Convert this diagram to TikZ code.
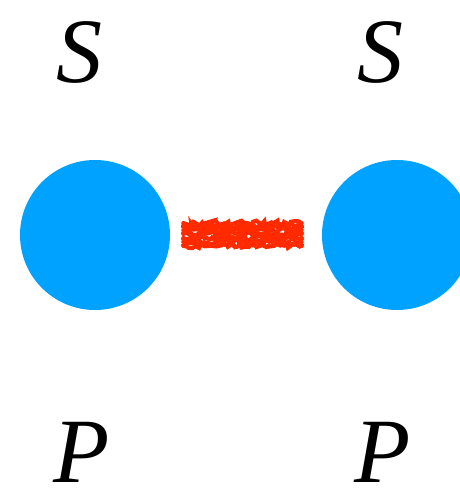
\documentclass[tikz,border=0pt]{standalone}
\usepackage{fontspec}
\setmainfont{Liberation Serif}
\usetikzlibrary{decorations.pathmorphing}
\definecolor{ballblue}{HTML}{00A2FF}
\definecolor{scribred}{HTML}{FF2A00}
\begin{document}
\begin{tikzpicture}[x=1pt,y=-1pt,
  ball/.style={circle,fill=ballblue,minimum size=150pt,inner sep=0pt},
  lbl/.style={font=\fontsize{92}{92}\selectfont\itshape,inner sep=0pt},
  scrib/.style={draw=scribred,line width=4pt,line cap=round,decorate,decoration={random steps,segment length=3pt,amplitude=2.5pt}}]
\useasboundingbox (0,0) rectangle (460,495);
\node[ball] (a) at (95,235) {};
\node[ball] (b) at (397,235) {};
\node[lbl] (s1) at (79,52) {S};
\node[lbl] (s2) at (380,52) {S};
\node[lbl] (p1) at (82,452) {P};
\node[lbl] (p2) at (383,452) {P};
\foreach \dy in {-11,-7,-3,1,5,9,12}{
  \draw[scrib] ([yshift=\dy pt,xshift=13pt]a.east) -- ([yshift=\dy pt,xshift=-20pt]b.west);
}
\foreach \dy in {-10,-4,2,8}{
  \draw[scrib,line width=3pt] ([yshift=\dy pt,xshift=12pt]a.east) -- ([yshift=\dy pt,xshift=-19pt]b.west);
}
\end{tikzpicture}
\end{document}
